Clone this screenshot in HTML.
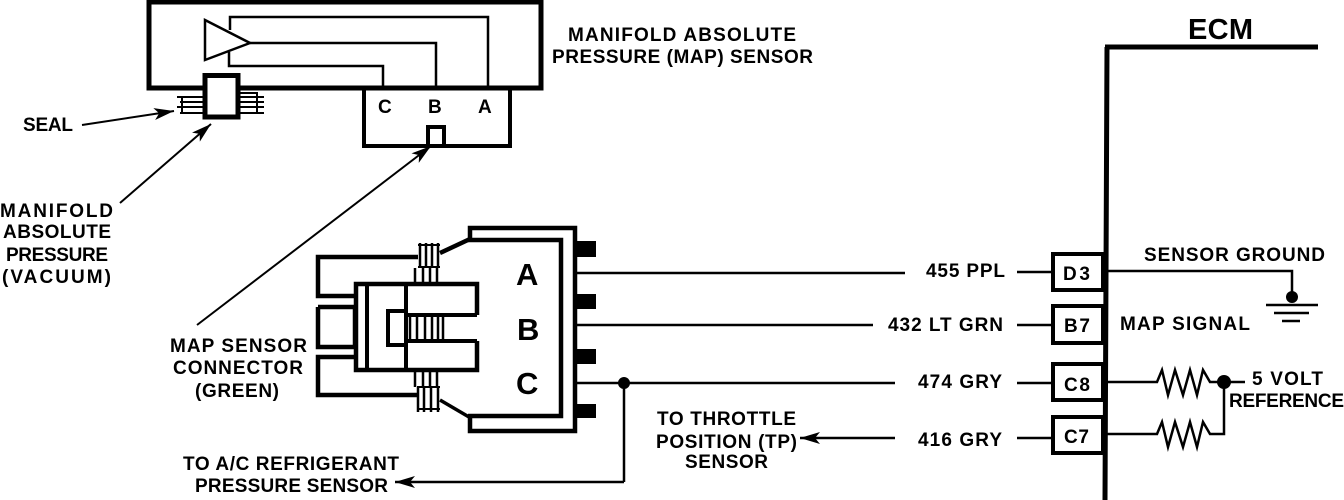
<!DOCTYPE html>
<html><head><meta charset="utf-8"><style>
html,body{margin:0;padding:0;background:#fff;width:1344px;height:500px;overflow:hidden}
svg{display:block}
text{font-family:"Liberation Sans",sans-serif;font-weight:bold;font-size:19px;fill:#000}
.big{font-size:31px}
</style></head><body>
<svg width="1344" height="500" viewBox="0 0 1344 500" xmlns="http://www.w3.org/2000/svg">
<defs>
<marker id="a" markerWidth="20" markerHeight="12" refX="20" refY="6" orient="auto" markerUnits="userSpaceOnUse"><path d="M0 0L20 6L0 12L5 6Z" fill="#000"/></marker>
</defs>
<g fill="none" stroke="#000" stroke-linejoin="miter">
<!-- MAP sensor body -->
<path d="M149 2H541V88H149Z" stroke-width="5"/>
<path d="M205 20L250 43L205 60Z" stroke-width="2.5"/>
<path d="M230 30V17H488V87" stroke-width="2.5"/>
<path d="M250 43H436V87" stroke-width="2.5"/>
<path d="M229 52V66H383V87" stroke-width="2.5"/>
<path d="M364 89V146H510V89" stroke-width="4"/>
<rect x="428" y="127" width="16" height="19" fill="#fff" stroke-width="4"/>
<!-- seal -->
<g stroke-width="2">
<path d="M177 97H204M180 102H204M177 107H204M180 113H204M182 97V113"/>
<path d="M240 93H258M240 97H264M240 102H264M240 107H264M240 113H264M257 93V113"/>
</g>
<rect x="205" y="75.5" width="33" height="41.5" fill="#fff" stroke-width="5"/>
<!-- label leaders -->
<g stroke-width="2">
<path d="M82 125L174 111" marker-end="url(#a)"/>
<path d="M120 203L211 124" marker-end="url(#a)"/>
<path d="M197 325L431 146" marker-end="url(#a)"/>
</g>
<!-- connector shell -->
<path d="M470 238V228H575V431H470V418" stroke-width="4.5"/>
<path d="M468 240H561V416H468" stroke-width="4.5"/>
<path d="M440 253L470 239" stroke-width="4.5"/>
<path d="M440 400L469 417" stroke-width="3.5"/>
<path d="M418 257H318V296H355M318 307H355V347H318V307M355 357H318V395H418" stroke-width="4.5"/>
<path d="M477 315V284H356V370H477V341" stroke-width="4.5"/>
<path d="M367 284V370M406 284V370" stroke-width="4"/>
<path d="M406 311H388V345H406" stroke-width="4"/>
<path d="M406 315H477M406 341H477" stroke-width="4"/>
<path d="M410 317V339M417 317V339M425 317V339M432 317V339M438 317V339M443 317V339" stroke-width="2.5"/>
<!-- ribs -->
<g stroke-width="2.5">
<path d="M415 268V284M423 268V284M430 268V284M437 268V284"/>
<path d="M420 243V268M426 243V268M432 243V268M438 243V268"/>
<path d="M418 245H440M418 267H440" stroke-width="2"/>
<path d="M415 370V387M423 370V387M430 370V387M437 370V387"/>
<path d="M418 387V412M424 387V412M431 387V412M438 387V412"/>
<path d="M417 387H440M417 409H440" stroke-width="2"/>
</g>
<!-- wires -->
<g stroke-width="2.5">
<path d="M577 273H905M577 325H873M577 383H895M1017 272H1052M1017 325H1052M1017 383H1052M1017 438H1052"/>
<path d="M624 383V482"/>
<path d="M1105 271H1292V297"/>
<path d="M895 438H800" marker-end="url(#a)"/>
<path d="M624 482H395" marker-end="url(#a)"/>
</g>
<path d="M1107 47L1105 500M1105 47H1318" stroke-width="5"/>
<rect x="1053" y="254" width="50" height="36" fill="#fff" stroke-width="4"/>
<rect x="1053" y="306" width="50" height="37" fill="#fff" stroke-width="4"/>
<rect x="1053" y="364" width="50" height="36" fill="#fff" stroke-width="4"/>
<rect x="1053" y="417" width="50" height="36" fill="#fff" stroke-width="4"/>
<path d="M1266 305H1318M1274 313H1309M1282 321H1300" stroke-width="2.5"/>
<g stroke-width="2.5">
<path d="M1107 382H1157L1162 370L1168 395L1175 370L1183 395L1190 370L1197 395L1203 370L1210 382H1245"/>
<path d="M1107 434H1157L1162 422L1168 447L1175 422L1183 447L1190 422L1197 447L1203 422L1210 434H1224V382"/>
</g>
</g>
<g fill="#000">
<circle cx="624" cy="383" r="6"/>
<circle cx="1292" cy="297" r="6"/>
<circle cx="1224" cy="382" r="7"/>
<rect x="577" y="241" width="19" height="16"/>
<rect x="577" y="294" width="19" height="15"/>
<rect x="577" y="349" width="19" height="15"/>
<rect x="577" y="404" width="19" height="14"/>
</g>
<text x="568" y="41" textLength="228" lengthAdjust="spacing">MANIFOLD ABSOLUTE</text>
<text x="552" y="63" textLength="261" lengthAdjust="spacing">PRESSURE (MAP) SENSOR</text>
<text x="1188" y="39" textLength="65" lengthAdjust="spacing" style="font-size:29px">ECM</text>
<text x="378" y="113">C</text><text x="428" y="113">B</text><text x="478" y="113">A</text>
<text x="23" y="131" textLength="50" lengthAdjust="spacing">SEAL</text>
<text x="0" y="217" textLength="113" lengthAdjust="spacing">MANIFOLD</text>
<text x="3" y="238" textLength="108" lengthAdjust="spacing">ABSOLUTE</text>
<text x="6" y="261" textLength="102" lengthAdjust="spacing">PRESSURE</text>
<text x="2" y="283" textLength="109" lengthAdjust="spacing">(VACUUM)</text>
<text x="170" y="352" textLength="137" lengthAdjust="spacing">MAP SENSOR</text>
<text x="173" y="374" textLength="130" lengthAdjust="spacing">CONNECTOR</text>
<text x="195" y="397" textLength="84" lengthAdjust="spacing">(GREEN)</text>
<text x="516" y="285" class="big">A</text><text x="517" y="340" class="big">B</text><text x="516" y="394" class="big">C</text>
<text x="926" y="277" textLength="79" lengthAdjust="spacing">455 PPL</text>
<text x="888" y="331" textLength="115" lengthAdjust="spacing">432 LT GRN</text>
<text x="918" y="388" textLength="84" lengthAdjust="spacing">474 GRY</text>
<text x="918" y="446" textLength="84" lengthAdjust="spacing">416 GRY</text>
<text x="1063" y="280" textLength="27" lengthAdjust="spacing">D3</text>
<text x="1064" y="332" textLength="26" lengthAdjust="spacing">B7</text>
<text x="1064" y="391" textLength="26" lengthAdjust="spacing">C8</text>
<text x="1064" y="443" textLength="25" lengthAdjust="spacing">C7</text>
<text x="1144" y="261" textLength="181" lengthAdjust="spacing">SENSOR GROUND</text>
<text x="1120" y="330" textLength="130" lengthAdjust="spacing">MAP SIGNAL</text>
<text x="1252" y="385" textLength="71" lengthAdjust="spacing">5 VOLT</text>
<text x="1229" y="407" textLength="115" lengthAdjust="spacing">REFERENCE</text>
<text x="657" y="425" textLength="139" lengthAdjust="spacing">TO THROTTLE</text>
<text x="656" y="448" textLength="141" lengthAdjust="spacing">POSITION (TP)</text>
<text x="685" y="468" textLength="83" lengthAdjust="spacing">SENSOR</text>
<text x="183" y="470" textLength="216" lengthAdjust="spacing">TO A/C REFRIGERANT</text>
<text x="195" y="492" textLength="193" lengthAdjust="spacing">PRESSURE SENSOR</text>
</svg>
</body></html>
